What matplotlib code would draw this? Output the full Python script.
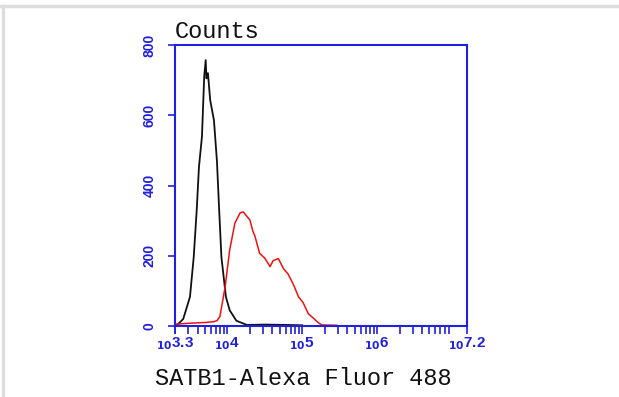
import matplotlib.pyplot as plt
from matplotlib.lines import Line2D
import numpy as np

# log10 fluorescence positions and counts
ctrl_log = [3.30, 3.34, 3.41, 3.50, 3.55, 3.59, 3.62, 3.66, 3.69, 3.71, 3.72, 3.74, 3.77,
            3.82, 3.86, 3.89, 3.92, 3.98, 4.03, 4.12, 4.26, 4.50, 4.80, 5.00]
ctrl_counts = [0, 5, 20, 83, 196, 330, 453, 539, 710, 757, 705, 720, 643,
               586, 470, 330, 196, 83, 45, 15, 3, 4, 3, 2]

satb1_log = [3.30, 3.50, 3.70, 3.81, 3.86, 3.90, 3.97, 4.03, 4.10, 4.17, 4.21, 4.30,
             4.34, 4.37, 4.43, 4.50, 4.57, 4.61, 4.68, 4.75, 4.81, 4.88, 4.95, 5.01,
             5.08, 5.15, 5.21, 5.26, 5.46]
satb1_counts = [5, 8, 10, 12, 15, 27, 112, 216, 293, 322, 325, 302,
                270, 254, 207, 193, 169, 186, 192, 163, 148, 119, 83, 67,
                35, 22, 10, 3, 2]

xlim_log = (3.3, 7.2)
xlabel_exps = ['3.3', '4', '5', '6', '7.2']
yticks = [0, 200, 400, 600, 800]

blue = '#2020dd'

fig = plt.figure(figsize=(6.19, 3.97), dpi=100)
ax = fig.add_axes([175 / 619, 71 / 397, 292 / 619, 281 / 397])

ax.plot(10 ** np.array(ctrl_log), ctrl_counts, color='#111111', lw=1.3)
ax.plot(10 ** np.array(satb1_log), satb1_counts, color='#ee1111', lw=1.1)

ax.set_xscale('log')
ax.set_xlim(10 ** xlim_log[0], 10 ** xlim_log[1])
ax.set_ylim(0, 800)

for s in ax.spines.values():
    s.set_color(blue)
    s.set_linewidth(1.5)

major_x = [10 ** float(e) for e in xlabel_exps]
ax.set_xticks(major_x)
ax.set_xticklabels([r'$_{\mathbf{10}}$' + e for e in xlabel_exps], color=blue,
                   fontsize=11, fontweight='bold', family='Liberation Sans')
minor = []
for d in range(3, 8):
    for m in range(2, 10):
        v = m * 10 ** d
        if 10 ** xlim_log[0] < v < 10 ** xlim_log[1]:
            minor.append(v)
ax.set_xticks(minor, minor=True)
ax.tick_params(axis='x', which='both', direction='out', length=6, width=1.2,
               color=blue, pad=1)

ax.set_yticks(yticks)
ax.set_yticklabels([str(v) for v in yticks], rotation=90, va='center', color=blue,
                   fontsize=10, fontweight='bold', family='Liberation Sans')
ax.tick_params(axis='y', direction='out', length=5, width=1.2, color=blue, pad=8)

fig.text(175 / 619, 1 - 38 / 397, 'Counts', family='Liberation Mono', fontsize=17,
         color='#111111', ha='left', va='baseline')
fig.text(155 / 619, 1 - 385 / 397, 'SATB1-Alexa Fluor 488', family='Liberation Mono',
         fontsize=17, color='#111111', ha='left', va='baseline')

# light grey frame at top and left edges of the image
fig.add_artist(Line2D([0, 1], [1 - 6 / 397] * 2, color='#dddddd', lw=2.5,
                      transform=fig.transFigure))
fig.add_artist(Line2D([3 / 619] * 2, [0, 1 - 6 / 397], color='#dddddd', lw=2.5,
                      transform=fig.transFigure))

fig.savefig('out.png', dpi=100)
